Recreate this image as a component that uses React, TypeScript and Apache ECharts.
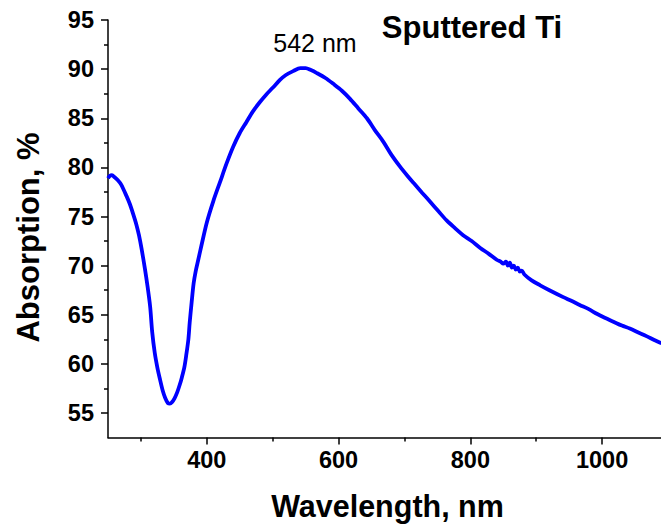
import React, { useEffect, useRef } from "react";
import * as echarts from "echarts";

const wavelengths = [
  250, 253, 256, 260, 265, 270, 278, 283, 288, 293, 297, 301, 306, 310, 314, 317, 321, 325, 329, 333,
  337, 341, 344, 347, 351, 355, 359, 362, 366, 369, 372, 374, 377, 380, 383, 387, 392, 400, 410, 420,
  430, 440, 450, 460, 470, 480, 490, 500, 511, 520, 531, 542, 550, 558, 567, 580, 592, 605, 617, 630,
  643, 655, 668, 680, 693, 705, 714, 727, 739, 752, 764, 777, 789, 802, 815, 828, 840, 846, 850, 854,
  857, 860, 863, 866, 869, 872, 875, 878, 882, 893, 906, 920, 941, 954, 966, 979, 992, 1004, 1017, 1030,
  1042, 1055, 1068, 1080, 1090,
];
const absorption = [
  78.9, 79.15, 79.2, 79.0, 78.7, 78.25, 77.1, 76.3, 75.3, 74.2, 73.1, 71.7, 69.7, 67.9, 65.8, 63.3, 61.1, 59.6, 58.4, 57.3,
  56.5, 56.0, 55.95, 56.1, 56.5, 57.1, 57.9, 58.6, 59.7, 61.0, 62.5, 64.2, 66.3, 68.2, 69.4, 70.6, 72.1, 74.4, 76.6, 78.5,
  80.4, 82.1, 83.5, 84.6, 85.7, 86.6, 87.4, 88.1, 88.9, 89.4, 89.8, 90.1, 90.1, 89.9, 89.6, 89.1, 88.5, 87.8, 87.0, 86.0,
  85.0, 83.8, 82.6, 81.3, 80.1, 79.1, 78.4, 77.4, 76.5, 75.5, 74.6, 73.8, 73.1, 72.5, 71.8, 71.2, 70.6, 70.4, 70.2, 70.4,
  70.0, 70.3, 69.8, 70.0, 69.6, 69.8, 69.4, 69.5, 69.1, 68.5, 68.0, 67.5, 66.8, 66.4, 66.0, 65.6, 65.1, 64.7, 64.3, 63.9,
  63.6, 63.2, 62.8, 62.4, 62.1,
];

const xMajorTicks = [400, 600, 800, 1000];
const xMinorTicks = [300, 500, 700, 900];
const yMajorTicks = [55, 60, 65, 70, 75, 80, 85, 90, 95];
const yMinorTicks = [57.5, 62.5, 67.5, 72.5, 77.5, 82.5, 87.5, 92.5];

const xTitle = "Wavelength, nm";
const yTitle = "Absorption, %";
const panelTitle = "Sputtered Ti";
const peakLabel = "542 nm";

const FONT = "'Liberation Sans', Arial, sans-serif";

export default function App() {
  const ref = useRef<HTMLDivElement>(null);
  useEffect(() => {
    if (!ref.current) return;
    const chart = echarts.init(ref.current, null, { renderer: "svg" });
    const data = wavelengths.map((w, i) => [w, absorption[i]]);
    const axisBase = {
      type: "value" as const,
      splitLine: { show: false },
    };
    const labelFmt = (v: number) => String(v);
    chart.setOption({
      animation: false,
      backgroundColor: "#ffffff",
      grid: { left: 108, top: 20, bottom: 86.4, right: 0, containLabel: false },
      xAxis: [
        {
          ...axisBase,
          min: 250,
          max: 1100,
          position: "bottom",
          axisLine: { show: true, lineStyle: { color: "#000", width: 1.5 } },
          axisTick: { show: true, customValues: xMajorTicks, length: 7, inside: false, lineStyle: { color: "#000", width: 1.5 } },
          axisLabel: {
            customValues: xMajorTicks,
            formatter: labelFmt,
            margin: 10,
            color: "#000",
            fontFamily: FONT,
            fontWeight: "bold",
            fontSize: 23.5,
          },
        },
        {
          ...axisBase,
          min: 250,
          max: 1100,
          position: "bottom",
          axisLine: { show: false },
          axisTick: { show: true, customValues: xMinorTicks, length: 4, inside: false, lineStyle: { color: "#000", width: 1.5 } },
          axisLabel: { show: false },
        },
      ],
      yAxis: [
        {
          ...axisBase,
          min: 52.5,
          max: 95,
          position: "left",
          axisLine: { show: true, lineStyle: { color: "#000", width: 1.5 } },
          axisTick: { show: true, customValues: yMajorTicks, length: 7, inside: false, lineStyle: { color: "#000", width: 1.5 } },
          axisLabel: {
            customValues: yMajorTicks,
            formatter: labelFmt,
            margin: 14,
            color: "#000",
            fontFamily: FONT,
            fontWeight: "bold",
            fontSize: 23.5,
          },
        },
        {
          ...axisBase,
          min: 52.5,
          max: 95,
          position: "left",
          axisLine: { show: false },
          axisTick: { show: true, customValues: yMinorTicks, length: 4, inside: false, lineStyle: { color: "#000", width: 1.5 } },
          axisLabel: { show: false },
        },
      ],
      series: [
        {
          type: "line",
          xAxisIndex: 0,
          yAxisIndex: 0,
          data,
          showSymbol: false,
          smooth: 0.3,
          lineStyle: { color: "#0000ff", width: 3.8 },
          itemStyle: { color: "#0000ff" },
        },
      ],
      graphic: [
        {
          type: "text",
          x: 387.5,
          y: 506,
          style: { text: xTitle, fontFamily: FONT, fontWeight: "bold", fontSize: 30.5, fill: "#000", align: "center", verticalAlign: "middle" },
        },
        {
          type: "text",
          x: 28.5,
          y: 237.5,
          rotation: Math.PI / 2,
          style: { text: yTitle, fontFamily: FONT, fontWeight: "bold", fontSize: 31, fill: "#000", align: "center", verticalAlign: "middle" },
        },
        {
          type: "text",
          x: 472,
          y: 27.5,
          style: { text: panelTitle, fontFamily: FONT, fontWeight: "bold", fontSize: 31, fill: "#000", align: "center", verticalAlign: "middle" },
        },
        {
          type: "text",
          x: 315,
          y: 42.5,
          style: { text: peakLabel, fontFamily: FONT, fontWeight: "normal", fontSize: 25, fill: "#000", align: "center", verticalAlign: "middle" },
        },
      ],
    });
    return () => chart.dispose();
  }, []);
  return (
    <div style={{ position: "fixed", left: 0, top: 0, width: 661, height: 524, overflow: "hidden", background: "#fff" }}>
      <div ref={ref} style={{ width: 667.5, height: 524 }} />
    </div>
  );
}
